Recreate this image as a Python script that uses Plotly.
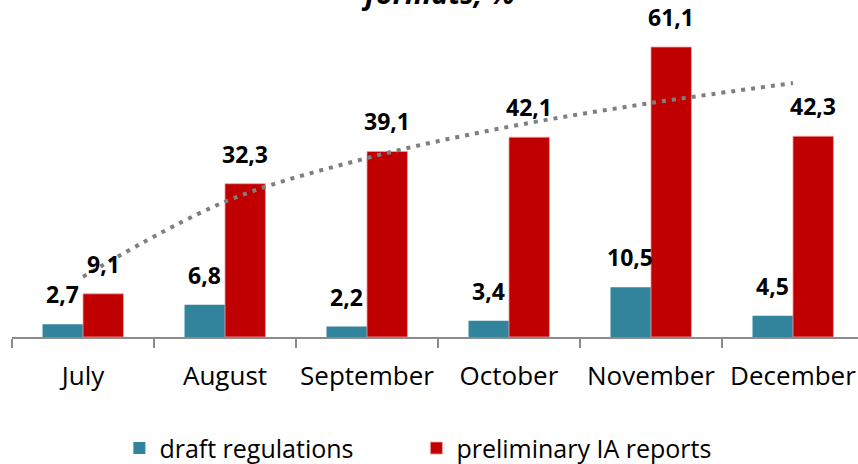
import plotly.graph_objects as go

# ---- data ---------------------------------------------------------------
months = ['July', 'August', 'September', 'October', 'November', 'December']
draft_regulations = [2.7, 6.8, 2.2, 3.4, 10.5, 4.5]
preliminary_reports = [9.1, 32.3, 39.1, 42.1, 61.1, 42.3]
trend_reports = [12.7, 28.5, 37.7, 44.3, 49.3, 53.5]   # log trendline
title_text = 'formats, %'

TEAL = '#31849B'
RED = '#C00000'
FONT = 'Open Sans'

fig = go.Figure()
fig.add_trace(go.Bar(x=months, y=draft_regulations, name='draft regulations',
                     marker=dict(color=TEAL, line=dict(width=0))))
fig.add_trace(go.Bar(x=months, y=preliminary_reports, name='preliminary IA reports',
                     marker=dict(color=RED, line=dict(color='#F2A0A0', width=0.8))))
fig.add_trace(go.Scatter(x=months, y=trend_reports, mode='lines', showlegend=False,
                         line=dict(color='#7F7F7F', width=4, dash='4px,6px', shape='spline'),
                         hoverinfo='skip'))

# data labels above each bar
def fmt(v):
    return ('%.1f' % v).replace('.', ',')

for vals, shift in ((draft_regulations, -20.5), (preliminary_reports, 20.5)):
    for m, v in zip(months, vals):
        fig.add_annotation(x=m, y=v, text='<b>' + fmt(v) + '</b>', showarrow=False,
                           xshift=shift, yanchor='bottom', yshift=12,
                           font=dict(family=FONT, size=23, color='black'))

# cut-off title at the very top
fig.add_annotation(xref='paper', yref='paper', x=0.5, y=1, xshift=3,
                   yanchor='bottom', yshift=-4, showarrow=False,
                   text='<b><i>' + title_text + '</i></b>',
                   font=dict(family=FONT, size=29, color='black'))

fig.update_layout(
    width=858, height=464,
    margin=dict(l=12, r=0, t=10, b=127, autoexpand=False),
    paper_bgcolor='white', plot_bgcolor='white',
    barmode='group', bargap=0.43, bargroupgap=0,
    font=dict(family=FONT, size=24, color='black'),
    legend=dict(orientation='h', x=0.478, xanchor='center', y=-0.27, yanchor='top',
                font=dict(size=25), itemwidth=30, entrywidth=252, traceorder='normal'),
    showlegend=True,
)
fig.update_xaxes(range=[-0.5, 5.458], showline=True, linecolor='#8C8C8C', linewidth=1.5,
                 ticks='outside', tickson='boundaries', ticklen=9, tickcolor='#8C8C8C',
                 tickwidth=1.5, showgrid=False, ticklabelstandoff=15, automargin=False,
                 tickangle=0, tickfont=dict(size=26))
fig.update_yaxes(range=[0, 68.9], visible=False, showgrid=False, automargin=False)

# the page body has an 8px default margin; drop it so the figure sits at 0,0
fig.write_html("out.html", config={'displayModeBar': False},
               post_script="document.body.style.margin='0px';")
